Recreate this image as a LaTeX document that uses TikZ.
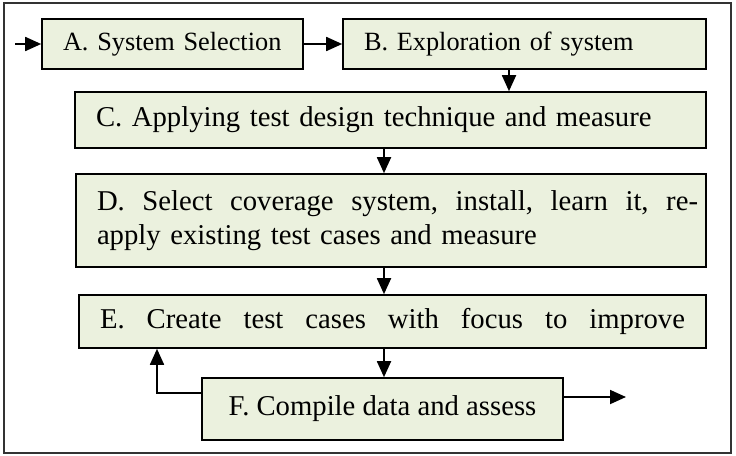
\documentclass[tikz,border=0pt]{standalone}
\usepackage{fontspec}
\setmainfont{Liberation Serif}
\usetikzlibrary{arrows.meta}
\definecolor{boxfill}{HTML}{EBF1DE}
\begin{document}
\begin{tikzpicture}[x=1pt,y=-1pt,
  stepbox/.style={draw=black, line width=1.6pt, fill=boxfill, rectangle, inner xsep=21pt, inner ysep=0pt, align=left, anchor=center},
  bigtext/.style={font=\fontsize{28.7}{34}\selectfont},
  smalltext/.style={font=\fontsize{26.3}{30}\selectfont},
  conn/.style={line width=1.8pt, arrows={-Triangle[length=16pt 0,width=14pt 0]}}]
\useasboundingbox (0,0) rectangle (736,455);
\draw[black!80, line width=1.3pt] (4,3) rectangle (731,453);

\node[stepbox, smalltext, text width=219pt, minimum height=50pt] (A) at (172.5,44) {A. System Selection};
\node[stepbox, smalltext, text width=321pt, minimum height=50pt] (B) at (524.5,44) {B. Exploration of system};
\node[stepbox, bigtext, text width=589pt, minimum height=56pt] (C) at (390.5,120) {C. Applying test design technique and measure};
\node[stepbox, bigtext, text width=588pt, minimum height=93pt] (D) at (391,220.5) {\rlap{\hbox to 601pt{D.\hfill Select\hfill coverage\hfill system,\hfill install,\hfill learn\hfill it,\hfill re-}}\\apply existing test cases and measure};
\node[stepbox, bigtext, text width=585pt, minimum height=53pt] (E) at (392.5,321.5) {\hbox to 585pt{E.\hfill Create\hfill test\hfill cases\hfill with\hfill focus\hfill to\hfill improve}};
\node[stepbox, bigtext, inner xsep=0pt, minimum width=361pt, minimum height=62pt] (F) at (382.5,409) {F. Compile data and assess};

\coordinate (in) at (15,44);
\coordinate (xb) at (509,0);
\coordinate (xm) at (384,0);
\coordinate (out) at (626,397);
\coordinate (fb) at (157,393);

\draw[conn] (in) -- (A.west);
\draw[conn] (A.east) -- (B.west);
\draw[conn] (B.south -| xb) -- (C.north -| xb);
\draw[conn] (C.south -| xm) -- (D.north -| xm);
\draw[conn] (D.south -| xm) -- (E.north -| xm);
\draw[conn] (E.south -| xm) -- (F.north -| xm);
\draw[conn] (F.east |- out) -- (out);
\draw[conn] (F.west |- fb) -- (fb) -- (fb |- E.south);
\end{tikzpicture}
\end{document}
